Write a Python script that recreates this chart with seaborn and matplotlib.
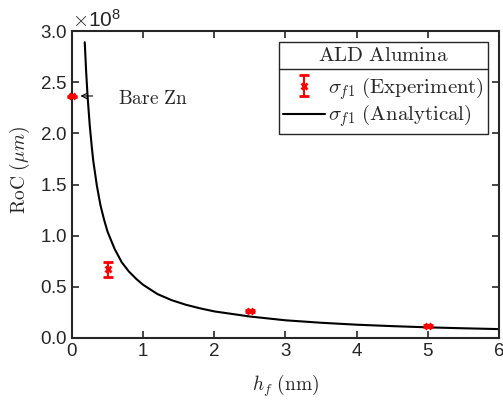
import matplotlib
matplotlib.use("Agg")
import matplotlib.pyplot as plt
from matplotlib.lines import Line2D
from matplotlib.ticker import ScalarFormatter
import pandas as pd
import seaborn as sns

sns.set_style("ticks")
plt.rcParams['font.family'] = ['Liberation Sans', 'DejaVu Sans']
plt.rcParams['mathtext.fontset'] = 'cm'

# experimental points (RoC in um)
exp_h = [0.0, 0.5, 2.5, 5.0]
exp_roc = [2.36e8, 0.67e8, 0.267e8, 0.12e8]
exp_err = [0.008e8, 0.07e8, 0.01e8, 0.01e8]

# analytical curve
ana_h = [0.18, 0.2, 0.22, 0.25, 0.28, 0.3, 0.35, 0.4, 0.45, 0.5, 0.6, 0.7, 0.8, 0.9,
         1.0, 1.2, 1.4, 1.6, 1.8, 2.0, 2.5, 3.0, 3.5, 4.0, 4.5, 5.0, 5.5, 6.0]
ana_roc = [2.89e8, 2.60e8, 2.36e8, 2.08e8, 1.86e8, 1.73e8, 1.49e8, 1.30e8, 1.16e8, 1.04e8,
           0.87e8, 0.74e8, 0.65e8, 0.58e8, 0.52e8, 0.43e8, 0.37e8, 0.325e8, 0.29e8,
           0.26e8, 0.21e8, 0.173e8, 0.149e8, 0.13e8, 0.116e8, 0.104e8, 0.095e8, 0.087e8]

xticks = [0, 1, 2, 3, 4, 5, 6]
yticks = [0, 0.5e8, 1.0e8, 1.5e8, 2.0e8, 2.5e8, 3.0e8]

ana_df = pd.DataFrame({"h": ana_h, "roc": ana_roc})

fig = plt.figure(figsize=(5.03, 4.0), dpi=100)
ax = fig.add_axes([0.143, 0.155, 0.849, 0.7675])

ax.errorbar(exp_h, exp_roc, yerr=exp_err, fmt='x', color='red', ecolor='red',
            markersize=5, mew=2, capsize=3.5, elinewidth=1.5, capthick=1.5,
            label=r'$\sigma_{f1}\ \mathrm{(Experiment)}$', clip_on=False, zorder=3)
sns.lineplot(data=ana_df, x="h", y="roc", ax=ax, color='black', lw=1.5,
             label=r'$\sigma_{f1}\ \mathrm{(Analytical)}$')

ax.set_xlim(0, 6)
ax.set_ylim(0, 3.0e8)
ax.set_xticks(xticks)
ax.set_yticks(yticks)
fmt = ScalarFormatter(useMathText=True)
fmt.set_powerlimits((0, 0))
ax.yaxis.set_major_formatter(fmt)
ax.yaxis.get_offset_text().set_fontsize(15)

ax.set_xlabel(r'$h_f\ \mathrm{(nm)}$', fontsize=14, labelpad=9)
ax.set_ylabel(r'$\mathrm{RoC}\ (\mu m)$', fontsize=14)
ax.yaxis.set_label_coords(-0.093, 0.547)

ax.tick_params(direction='in', top=True, right=True, labelsize=13.5,
               length=5, width=1.2, colors='#262626')
for s in ax.spines.values():
    s.set_linewidth(1.5)
    s.set_color('#262626')
    s.set_visible(True)

ax.annotate('', xy=(0.08, 2.365e8), xytext=(0.33, 2.365e8),
            arrowprops=dict(arrowstyle='->', lw=0.8, color='black'))
ax.text(0.65, 2.34e8, r'$\mathrm{Bare\ Zn}$', fontsize=14, va='center', ha='left')

handles, labels = ax.get_legend_handles_labels()
order = [labels.index(r'$\sigma_{f1}\ \mathrm{(Experiment)}$'),
         labels.index(r'$\sigma_{f1}\ \mathrm{(Analytical)}$')]
leg = ax.legend([handles[i] for i in order], [labels[i] for i in order],
                loc='upper right', bbox_to_anchor=(0.974, 0.964),
                title=r'$\mathrm{ALD\ Alumina}$', title_fontsize=15, fontsize=15,
                fancybox=False, framealpha=1, edgecolor='#262626',
                handlelength=2.0, handletextpad=0.15, borderpad=0.2,
                labelspacing=0.05, borderaxespad=0)
leg.get_frame().set_linewidth(1.0)
leg._legend_box.sep = 7

fig.canvas.draw()
r = fig.canvas.get_renderer()
fb = leg.get_frame().get_window_extent(r)
tb = leg.get_title().get_window_extent(r)
inv = fig.transFigure.inverted()
x0, y0 = inv.transform((fb.x0, tb.y0 - 4))
x1, _ = inv.transform((fb.x1, tb.y0 - 4))
fig.add_artist(Line2D([x0, x1], [y0, y0], color='#262626', lw=1.0))

fig.savefig("out.png", dpi=100)
